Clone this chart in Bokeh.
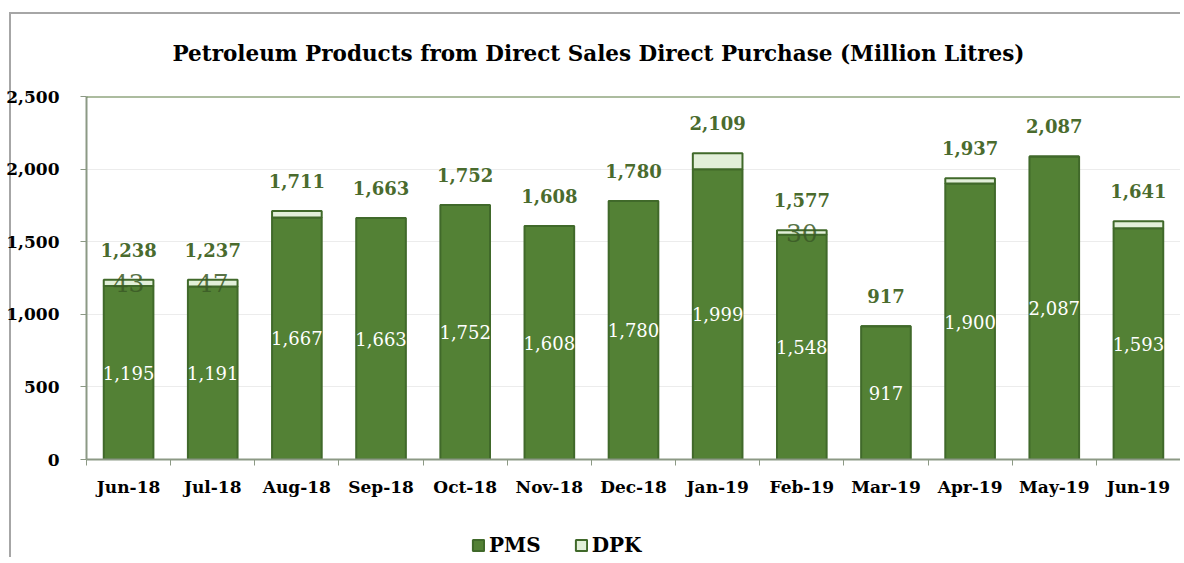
from bokeh.plotting import figure
from bokeh.layouts import column
from bokeh.models import (ColumnDataSource, LinearAxis, CategoricalAxis, FixedTicker,
                          Legend, LegendItem, NumeralTickFormatter, Span)
from bokeh.core.properties import value
from bokeh.embed import file_html
from bokeh.resources import INLINE

months = ["Jun-18", "Jul-18", "Aug-18", "Sep-18", "Oct-18", "Nov-18", "Dec-18",
          "Jan-19", "Feb-19", "Mar-19", "Apr-19", "May-19", "Jun-19"]
pms = [1195, 1191, 1667, 1663, 1752, 1608, 1780, 1999, 1548, 917, 1900, 2087, 1593]
dpk = [43, 47, 44, 0, 0, 0, 0, 110, 30, 0, 37, 0, 48]
totals = [1238, 1237, 1711, 1663, 1752, 1608, 1780, 2109, 1577, 917, 1937, 2087, 1641]
dpk_labels = ["43", "47", "", "", "", "", "", "", "30", "", "", "", ""]
y_ticks = [0, 500, 1000, 1500, 2000, 2500]

FONT = "DejaVu Serif"
PMS_C = "#538135"
DPK_C = "#e2efd9"
EDGE = "#40692a"
LBL_C = "#4a6b2e"
AX_C = "#8c9985"
GRAD = "linear-gradient(#a6a6a6, #a6a6a6)"

src = ColumnDataSource(dict(
    m=months, pms=pms, dpk=dpk, tot=totals,
    pms_mid=[v / 2 for v in pms],
    dpk_mid=[p + d / 2 for p, d in zip(pms, dpk)],
    top=[p + d for p, d in zip(pms, dpk)],
    pms_lbl=[f"{v:,}" for v in pms],
    tot_lbl=[f"{v:,}" for v in totals],
    dpk_lbl=dpk_labels,
))

p = figure(x_range=months, y_range=(0, 2500), width=1180, height=527,
           output_backend="svg", toolbar_location=None, x_axis_location=None,
           min_border_left=86, min_border_right=0, min_border_top=96,
           min_border_bottom=68)
p.styles = {"background": f"{GRAD} 9px 12px / 100% 2px no-repeat, "
                          f"{GRAD} 9px 12px / 2px 100% no-repeat"}
p.outline_line_color = None
p.background_fill_color = "white"
p.border_fill_alpha = 0

# title
p.title.text = "Petroleum Products from  Direct Sales Direct Purchase (Million Litres)"
p.title.text_font = FONT
p.title.text_font_size = "21.5px"
p.title.text_font_style = "bold"
p.title.text_color = "black"
p.title.align = "left"
p.title.offset = 86
p.title.standoff = 62

# grid
p.xgrid.grid_line_color = None
p.ygrid.ticker = FixedTicker(ticks=y_ticks)
p.ygrid.grid_line_color = "#ececec"
p.ygrid.grid_line_width = 1
p.add_layout(Span(location=2500, dimension="width", line_color="#5a7a40", line_width=2))

# y axis
ya = p.yaxis[0]
ya.ticker = FixedTicker(ticks=y_ticks)
ya.formatter = NumeralTickFormatter(format="0,0")
ya.major_label_text_font = FONT
ya.major_label_text_font_size = "17px"
ya.major_label_text_font_style = "bold"
ya.major_label_text_color = "black"
ya.axis_line_color = AX_C
ya.axis_line_width = 2
ya.major_tick_line_color = AX_C
ya.major_tick_out = 6
ya.major_tick_in = 0
ya.minor_tick_line_color = None
ya.major_label_standoff = 21

# x axis: boundary ticks + category labels
tick_axis = LinearAxis(ticker=FixedTicker(ticks=list(range(14))),
                       major_label_text_alpha=0, major_label_text_font_size="1px",
                       major_label_standoff=0,
                       axis_line_color=AX_C, axis_line_width=2,
                       major_tick_line_color=AX_C, major_tick_out=6, major_tick_in=0,
                       minor_tick_line_color=None)
p.add_layout(tick_axis, "below")
cat_axis = CategoricalAxis(axis_line_color=None, major_tick_line_color=None,
                           major_label_text_font=FONT, major_label_text_font_size="17px",
                           major_label_text_font_style="bold",
                           major_label_text_color="black", major_label_standoff=5)
p.add_layout(cat_axis, "below")

# bars
p.vbar(x="m", bottom=0, top="pms", width=0.59, source=src,
       fill_color=PMS_C, line_color=EDGE, line_width=2)
p.vbar(x="m", bottom="pms", top="top", width=0.59, source=src,
       fill_color=DPK_C, line_color=EDGE, line_width=2)

# labels
p.text(x="m", y="pms_mid", text="pms_lbl", source=src, text_align="center",
       text_baseline="middle", text_color="white", text_font=value(FONT),
       text_font_size="18px")
p.text(x="m", y="dpk_mid", text="dpk_lbl", source=src, text_align="center",
       text_baseline="middle", text_color="#3b5a26", text_alpha=0.85,
       text_font=value(FONT), text_font_size="25px")
p.text(x="m", y="top", text="tot_lbl", source=src, text_align="center",
       text_baseline="middle", y_offset=-30, text_color=LBL_C, text_font=value(FONT),
       text_font_size="18px", text_font_style="bold")

# legend strip (separate figure below the chart)
lg = figure(x_range=months, y_range=(0, 2500), width=1180, height=30,
            output_backend="svg", toolbar_location=None, x_axis_location=None,
            y_axis_location=None, min_border=0)
lg.styles = {"background": f"{GRAD} 9px 0 / 2px 100% no-repeat"}
lg.outline_line_color = None
lg.grid.grid_line_color = None
lg.background_fill_alpha = 0
lg.border_fill_alpha = 0
lr1 = lg.vbar(x="m", bottom=0, top="pms", width=0.59, source=src, visible=False,
              fill_color=PMS_C, line_color=EDGE, line_width=2)
lr2 = lg.vbar(x="m", bottom="pms", top="top", width=0.59, source=src, visible=False,
              fill_color=DPK_C, line_color=EDGE, line_width=2)
legend = Legend(items=[LegendItem(label="PMS", renderers=[lr1]),
                       LegendItem(label="DPK", renderers=[lr2])],
                orientation="horizontal", location=(385, 0),
                label_text_font=FONT, label_text_font_size="20px",
                label_text_font_style="bold", label_text_color="black",
                glyph_width=14, glyph_height=14, spacing=33, label_standoff=4,
                label_height=18,
                border_line_color=None, background_fill_alpha=0, padding=0, margin=0)
lg.add_layout(legend, "center")

layout = column(p, lg, spacing=0)
open("out.html", "w").write(file_html(layout, INLINE))
